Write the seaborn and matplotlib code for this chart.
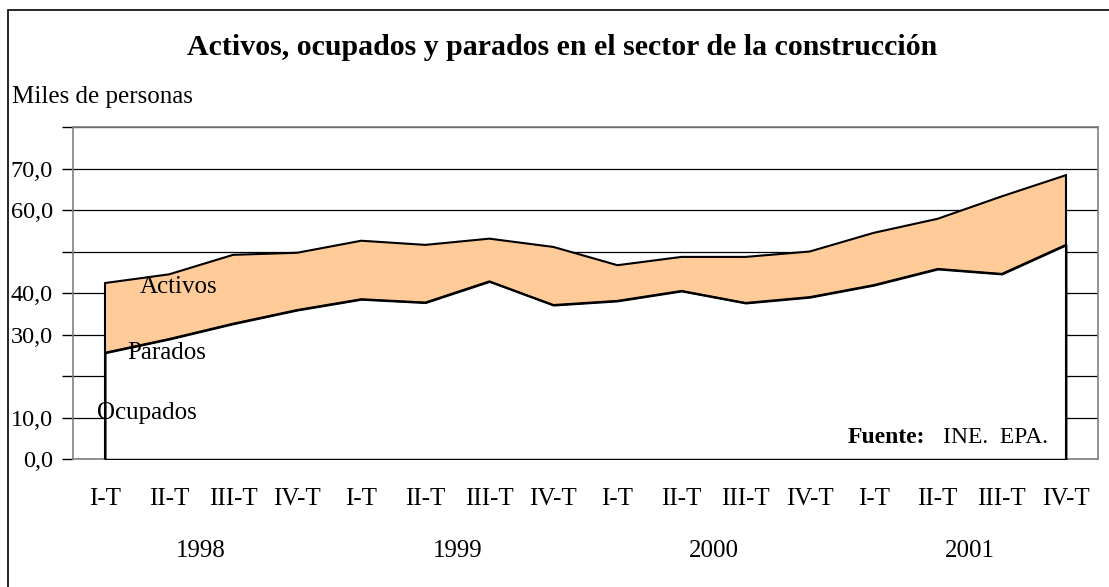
import numpy as np
import pandas as pd
import matplotlib
matplotlib.use("Agg")
import matplotlib.pyplot as plt
import seaborn as sns
from matplotlib.patches import Rectangle

# =========================
# DATA
# =========================
trimestres = ["I-T", "II-T", "III-T", "IV-T"] * 4
anios = ["1998", "1999", "2000", "2001"]
ocupados = [25.7, 29.0, 32.7, 36.0, 38.6, 37.8, 42.9, 37.2,
            38.2, 40.6, 37.7, 39.1, 42.0, 45.9, 44.7, 51.7]
activos = [42.5, 44.6, 49.3, 49.8, 52.7, 51.7, 53.2, 51.2,
           46.8, 48.8, 48.8, 50.1, 54.6, 58.0, 63.4, 68.5]
y_ticks = [0, 10, 20, 30, 40, 50, 60, 70, 80]
y_labels = ["0,0", "10,0", "", "30,0", "40,0", "", "60,0", "70,0", ""]

df = pd.DataFrame({"pos": np.arange(len(ocupados)),
                   "Ocupados": ocupados, "Activos": activos})

sns.set_theme(style="white")
plt.rcParams["font.family"] = ["Liberation Serif", "DejaVu Serif"]
plt.rcParams["text.color"] = "black"
FS = 18

fig = plt.figure(figsize=(11.09, 5.87), dpi=100)
ax = fig.add_axes([0.0658, 0.2175, 0.9242, 0.5653])

# grid lines behind the areas
ax.set_axisbelow(True)
ax.yaxis.grid(True, color="black", linewidth=0.9)
ax.xaxis.grid(False)

# parados band (between ocupados and activos), then ocupados area in white
ax.fill_between(df["pos"], df["Ocupados"], df["Activos"],
                facecolor="#FFCC99", edgecolor="none", zorder=2)
ax.fill_between(df["pos"], 0, df["Ocupados"],
                facecolor="white", edgecolor="black", linewidth=1.5, zorder=3)
ax.plot([df["pos"].iloc[0]] * 2, [0, activos[0]], color="black", lw=1.5, zorder=4)
ax.plot([df["pos"].iloc[-1]] * 2, [0, activos[-1]], color="black", lw=1.5, zorder=4)
sns.lineplot(data=df, x="pos", y="Activos", color="black", linewidth=1.5, ax=ax, zorder=4)
sns.lineplot(data=df, x="pos", y="Ocupados", color="black", linewidth=1.5, ax=ax, zorder=4)

ax.set_xlim(-0.5, 15.5)
ax.set_ylim(0, 80)
ax.set_yticks(y_ticks)
ax.set_yticklabels(y_labels)
ax.set_xticks(df["pos"])
ax.set_xticklabels(trimestres)
ax.set_xlabel("")
ax.set_ylabel("")
ax.tick_params(axis="y", which="major", left=True, length=8, width=1,
               color="black", pad=6.5, labelsize=17.5, labelcolor="black")
ax.tick_params(axis="x", which="major", bottom=False, pad=15, labelsize=FS,
               labelcolor="black")

for side in ["left", "top", "right", "bottom"]:
    ax.spines[side].set_visible(True)
    ax.spines[side].set_color("#808080")
    ax.spines[side].set_linewidth(1.2)

# year labels below the quarters
for i, a in enumerate(anios):
    ax.text(1.5 + 4 * i, -0.2935, a, transform=ax.get_xaxis_transform(),
            ha="center", va="baseline", fontsize=FS)

# series labels inside the chart
ax.text(0.536, 40.1, "Activos", fontsize=FS, ha="left", va="baseline", zorder=5)
ax.text(0.35, 24.2, "Parados", fontsize=FS, ha="left", va="baseline", zorder=5)
ax.text(-0.12, 9.74, "Ocupados", fontsize=FS, ha="left", va="baseline", zorder=5)
ax.text(0.756, 0.049, "Fuente:", transform=ax.transAxes, fontsize=17,
        fontweight="bold", ha="left", va="baseline", zorder=5)
ax.text(0.849, 0.049, "INE.  EPA.", transform=ax.transAxes, fontsize=17,
        ha="left", va="baseline", zorder=5)

fig.text(0.5068, 1 - 55 / 587, "Activos, ocupados y parados en el sector de la construcción",
         ha="center", va="baseline", fontsize=21.5, fontweight="bold")
fig.text(12 / 1109, 1 - 103 / 587, "Miles de personas", ha="left", va="baseline", fontsize=FS)

# outer chart frame
fig.patches.append(Rectangle((7.5 / 1109, -0.1), 1.2, 1 - 9.5 / 587 + 0.1,
                             transform=fig.transFigure, fill=False,
                             edgecolor="black", linewidth=1.2))

fig.savefig("out.png", dpi=100)
